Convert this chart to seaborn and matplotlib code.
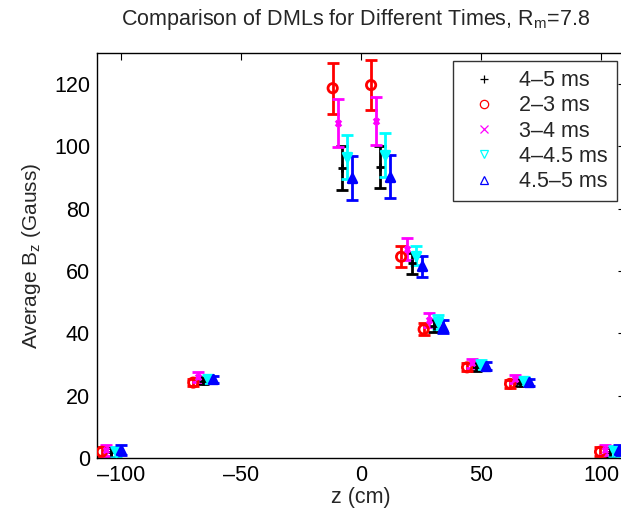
import matplotlib
matplotlib.use("Agg")
import matplotlib.pyplot as plt
from matplotlib.lines import Line2D
import seaborn as sns
import pandas as pd
import numpy as np

# ---- data ----
series_labels = ["4\u20135 ms", "2\u20133 ms", "3\u20134 ms", "4\u20134.5 ms", "4.5\u20135 ms"]

z_45_5 = [-104.2, -65.8, -7.9, 8.1, 21.1, 30.3, 48.1, 66.1, 103.6]
b_45_5 = [1.8, 24.8, 93.0, 93.5, 62.5, 42.4, 29.3, 24.2, 1.8]
e_45_5 = [1.5, 1.2, 7.1, 6.8, 3.3, 2.0, 1.4, 1.2, 1.5]

z_2_3 = [-108.0, -69.9, -11.8, 4.2, 16.7, 26.1, 44.2, 62.1, 99.6]
b_2_3 = [2.0, 24.2, 118.7, 119.7, 64.6, 41.3, 29.1, 23.8, 2.0]
e_2_3 = [1.5, 1.2, 8.2, 8.0, 3.3, 1.9, 1.3, 1.2, 1.5]

z_3_4 = [-106.2, -67.8, -9.7, 6.2, 19.2, 28.2, 46.1, 64.2, 101.7]
b_3_4 = [2.5, 26.0, 107.4, 108.2, 67.1, 44.4, 30.4, 25.3, 2.5]
e_3_4 = [1.8, 1.5, 7.7, 7.6, 3.4, 2.3, 1.5, 1.3, 1.6]

z_4_45 = [-102.2, -63.8, -5.8, 10.1, 23.1, 32.2, 50.1, 68.1, 105.6]
b_4_45 = [2.0, 25.5, 96.7, 97.3, 65.0, 43.6, 30.0, 24.8, 2.2]
e_4_45 = [1.6, 1.3, 7.0, 7.0, 3.0, 2.2, 1.4, 1.2, 1.6]

z_45_5b = [-100.2, -61.7, -3.9, 12.1, 25.3, 34.3, 52.1, 70.1, 107.6]
b_45_5b = [2.5, 25.2, 89.8, 90.3, 61.5, 42.2, 29.5, 24.3, 2.5]
e_45_5b = [1.6, 1.2, 7.0, 6.8, 3.4, 2.2, 1.4, 1.2, 1.6]

x_ticks = [-100, -50, 0, 50, 100]
y_ticks = [0, 20, 40, 60, 80, 100, 120]

# ---- style ----
sns.set_style("white")
plt.rcParams["font.family"] = ["Liberation Sans", "DejaVu Sans"]

colors = ["#000000", "#ff0000", "#ff00ff", "#00ffff", "#0000ff"]
markers = ["+", "o", "x", "v", "^"]
msizes = {"+": 30, "o": 45, "x": 16, "v": 38, "^": 38}
zs = [z_45_5, z_2_3, z_3_4, z_4_45, z_45_5b]
bs = [b_45_5, b_2_3, b_3_4, b_4_45, b_45_5b]
es = [e_45_5, e_2_3, e_3_4, e_4_45, e_45_5b]

frames = []
for lab, z, b, e in zip(series_labels, zs, bs, es):
    frames.append(pd.DataFrame({"z": z, "B": b, "err": e, "series": lab}))
df = pd.concat(frames, ignore_index=True)

fig = plt.figure(figsize=(6.21, 5.14), dpi=100)
ax = fig.add_axes([97 / 621, 56 / 514, 528 / 621, 405 / 514])

for lab, col, mk in zip(series_labels, colors, markers):
    d = df[df["series"] == lab]
    ax.errorbar(d["z"], d["B"], yerr=d["err"], fmt="none", ecolor=col,
                elinewidth=2.0, capsize=4, capthick=2.0, zorder=2)
    if mk == "o":
        fc = "none"
    else:
        fc = col
    sns.scatterplot(data=d, x="z", y="B", ax=ax, color=col, marker=mk,
                    s=msizes[mk], facecolor=fc, edgecolor=col,
                    linewidth=2.0, legend=False, zorder=3)

ax.set_xlim(-110, 110)
ax.set_ylim(0, 130)
ax.set_xticks(x_ticks)
ax.set_yticks(y_ticks)
ax.set_xticklabels([str(t).replace("-", "\u2013") for t in x_ticks])
ax.tick_params(direction="in", length=5, width=0.8, top=True, right=True,
               labelsize=15.5, pad=5, colors="black")
for sp in ax.spines.values():
    sp.set_visible(True)
    sp.set_color("black")
    sp.set_linewidth(1.0)

ax.set_xlabel("z (cm)", fontsize=15.5, labelpad=1)
ax.set_ylabel("Average B$_\\mathregular{z}$ (Gauss)", fontsize=15, labelpad=8)
fig.text(356 / 621, 1 - 20 / 514, "Comparison of DMLs for Different Times, R$_\\mathregular{m}$=7.8",
         ha="center", va="center", fontsize=15.5)

handles = []
for lab, col, mk in zip(series_labels, colors, markers):
    handles.append(Line2D([], [], linestyle="none", marker=mk, color=col,
                          markerfacecolor="none", markeredgecolor=col,
                          markersize=6, markeredgewidth=0.9, label=lab))
leg = ax.legend(handles=handles, loc="upper left", bbox_to_anchor=((453 - 97) / 528, (458 - 61) / 405),
                fontsize=15.5, frameon=True, fancybox=False, edgecolor="black",
                borderpad=0.42, labelspacing=0.2, handletextpad=0.65, handlelength=2.0,
                borderaxespad=0)
leg.get_frame().set_linewidth(1.0)

fig.savefig("out.png", dpi=100)
